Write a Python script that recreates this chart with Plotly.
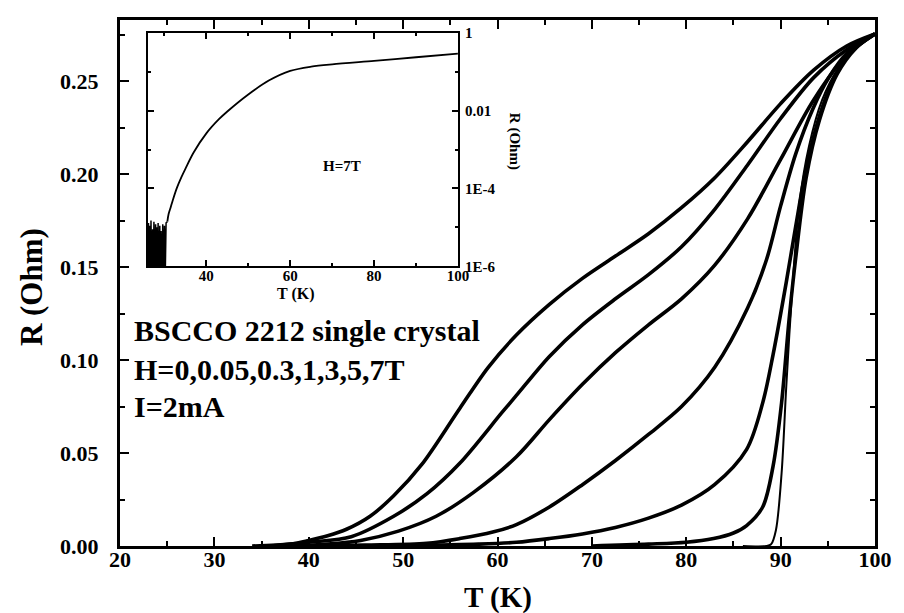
import plotly.graph_objects as go

# ---------------- data ----------------
fields = ["7T", "5T", "3T", "1T", "0.3T", "0.05T", "0T"]

H7_T = [34, 38, 40, 42, 44, 46.5, 49, 52, 56, 59, 62, 65.5, 69, 72.5, 76, 79.5, 83, 86.5, 90, 93.5, 97, 100]
H7_R = [0, 0.001, 0.003, 0.0055, 0.009, 0.016, 0.027, 0.044, 0.074, 0.096, 0.1135, 0.130, 0.144, 0.156,
        0.168, 0.182, 0.198, 0.2175, 0.238, 0.256, 0.269, 0.2755]

H5_T = [36, 40, 44.5, 49, 52.5, 56, 60.5, 62, 65.5, 69, 72.5, 76, 79.5, 83, 86.5, 90, 93.5, 97, 100]
H5_R = [0, 0.002, 0.005, 0.016, 0.028, 0.0445, 0.072, 0.081, 0.102, 0.119, 0.133, 0.146, 0.161, 0.181,
        0.205, 0.230, 0.252, 0.267, 0.2755]

H3_T = [38, 42, 45.5, 49.5, 53.5, 57.5, 62, 65.5, 69, 72.5, 76, 79.5, 83, 86.5, 90, 93.5, 97, 100]
H3_R = [0, 0.001, 0.003, 0.008, 0.016, 0.029, 0.048, 0.068, 0.087, 0.104, 0.119, 0.133, 0.151, 0.176,
        0.208, 0.240, 0.264, 0.2755]

H1_T = [40, 46, 52.5, 56, 59.5, 62, 65.5, 69, 72.5, 76, 79.5, 83, 86.5, 88.5, 90, 91.6, 93.4, 95.1, 97, 100]
H1_R = [0, 0.0005, 0.0015, 0.004, 0.0075, 0.0115, 0.021, 0.033, 0.046, 0.060, 0.075, 0.096, 0.128, 0.154,
        0.183, 0.211, 0.235, 0.252, 0.265, 0.2755]

H03_T = [50, 58, 62, 65.5, 69, 72.5, 76, 79.5, 83, 86.4, 88.1, 89.2, 90.6, 91.6, 92.7, 94.1, 95.5, 97.5, 100]
H03_R = [0, 0.001, 0.002, 0.004, 0.0065, 0.010, 0.015, 0.022, 0.033, 0.052, 0.077, 0.103, 0.142, 0.172,
         0.203, 0.231, 0.250, 0.266, 0.2755]

H005_T = [70, 76, 80, 82.9, 85, 86.4, 88.1, 89.2, 90.1, 90.9, 91.6, 92.7, 94.1, 96, 98, 100]
H005_R = [0, 0.001, 0.002, 0.004, 0.007, 0.011, 0.021, 0.043, 0.077, 0.122, 0.155, 0.198, 0.229, 0.254,
          0.268, 0.2755]

H0_T = [86, 88.5, 89, 89.5, 90.1, 90.6, 91.3, 92, 93, 94.4, 96.1, 98.3, 100]
H0_R = [0, 0, 0.001, 0.0085, 0.039, 0.086, 0.143, 0.185, 0.215, 0.240, 0.257, 0.270, 0.2755]

# inset: H = 7 T on a log scale - noisy floor below ~30.5 K, then smooth rise
inset_noise_T = [26.0, 26.2, 26.3, 26.5, 26.7, 26.8, 27.0, 27.2, 27.3, 27.5, 27.7, 27.9, 28.0,
                 28.2, 28.4, 28.5, 28.7, 28.9, 29.0, 29.2, 29.4, 29.6, 29.8, 30.0, 30.2, 30.4, 30.7]
inset_noise_R = [2e-7, 1.3e-5, 3e-7, 1.1e-5, 2e-7, 1.5e-5, 4e-7, 9e-6, 2e-7, 1.4e-5, 3e-7, 1.2e-5, 2e-7,
                 1.0e-5, 5e-7, 1.3e-5, 2e-7, 1.1e-5, 3e-7, 8e-6, 2e-7, 1.2e-5, 4e-7, 1.1e-5, 6e-7, 1.3e-5,
                 1.4e-5]
inset_T = [30.7, 31.0, 31.5, 32, 33, 34, 35, 37, 40, 43, 45, 50, 55, 60, 65, 70, 80, 90, 100]
inset_R = [1.4e-5, 2.2e-5, 3.3e-5, 5.0e-5, 1.05e-4, 1.9e-4, 3.2e-4, 8.5e-4, 2.6e-3, 6.0e-3, 9.5e-3,
           2.6e-2, 6.0e-2, 0.105, 0.135, 0.155, 0.19, 0.235, 0.29]

main_xticks = [20, 30, 40, 50, 60, 70, 80, 90, 100]
main_yticks = [0.00, 0.05, 0.10, 0.15, 0.20, 0.25]
inset_xticks = [40, 60, 80, 100]
inset_yticks = [1, 0.01, 1e-4, 1e-6]
inset_ytext = ["1", "0.01", "1E-4", "1E-6"]

curves = [(H7_T, H7_R), (H5_T, H5_R), (H3_T, H3_R), (H1_T, H1_R),
          (H03_T, H03_R), (H005_T, H005_R), (H0_T, H0_R)]

SERIF = "Liberation Serif"
fig = go.Figure()

for name, (t, r) in zip(fields, curves):
    fig.add_trace(go.Scatter(
        x=t, y=r, mode="lines", name=name,
        line=dict(color="black", width=2.0 if name == "0T" else 3.6,
                  shape="spline", smoothing=0.9),
        showlegend=False, xaxis="x", yaxis="y"))

fig.add_trace(go.Scatter(
    x=inset_noise_T, y=inset_noise_R, mode="lines", name="7T noise",
    line=dict(color="black", width=1.5), showlegend=False,
    xaxis="x2", yaxis="y2"))
fig.add_trace(go.Scatter(
    x=inset_T, y=inset_R, mode="lines", name="7T inset",
    line=dict(color="black", width=1.8, shape="spline", smoothing=0.9), showlegend=False,
    xaxis="x2", yaxis="y2"))

tickfont_main = dict(family=SERIF, size=22, color="black", weight="bold")
tickfont_in = dict(family=SERIF, size=15, color="black", weight="bold")

fig.update_layout(
    width=904, height=613,
    margin=dict(l=120, r=20, t=12, b=67),
    paper_bgcolor="white", plot_bgcolor="white",
    xaxis=dict(domain=[0, 1], range=[20, 100], tickvals=main_xticks,
               ticks="inside", ticklen=9, tickwidth=2, tickcolor="black",
               minor=dict(dtick=5, tick0=20, ticks="inside", ticklen=5, tickwidth=2, tickcolor="black"),
               showline=True, linewidth=3, linecolor="black", mirror="allticks",
               showgrid=False, zeroline=False, tickfont=tickfont_main,
               ticklabelstandoff=-8),
    yaxis=dict(domain=[0, 1], range=[0, 0.283], tickvals=main_yticks, tickformat=".2f",
               ticks="inside", ticklen=9, tickwidth=2, tickcolor="black",
               minor=dict(dtick=0.025, tick0=0, ticks="inside", ticklen=5, tickwidth=2, tickcolor="black"),
               showline=True, linewidth=3, linecolor="black", mirror="allticks",
               showgrid=False, zeroline=False, tickfont=tickfont_main,
               ticklabelstandoff=14),
    xaxis2=dict(domain=[0.0366, 0.4476], anchor="y2", range=[26, 100], tickvals=inset_xticks,
                ticks="inside", ticklen=6, tickwidth=1.5, tickcolor="black",
                minor=dict(dtick=10, tick0=20, ticks="inside", ticklen=3, tickwidth=1.5, tickcolor="black"),
                showline=True, linewidth=2, linecolor="black", mirror="allticks",
                showgrid=False, zeroline=False, tickfont=tickfont_in,
                ticklabelstandoff=-5),
    yaxis2=dict(domain=[0.5318, 0.9757], anchor="x2", side="right", type="log", range=[-6, 0],
                tickvals=inset_yticks, ticktext=inset_ytext,
                ticks="inside", ticklen=6, tickwidth=1.5, tickcolor="black",
                minor=dict(tickvals=[0.1, 1e-3, 1e-5], ticks="inside", ticklen=3,
                           tickwidth=1.5, tickcolor="black"),
                showline=True, linewidth=2, linecolor="black", mirror="allticks",
                showgrid=False, zeroline=False, tickfont=tickfont_in,
                ticklabelstandoff=2),
)

ann = [
    dict(text="T (K)", x=0.5, y=-0.0974, font=dict(family=SERIF, size=29, weight="bold")),
    dict(text="R (Ohm)", x=-0.118, y=0.492, textangle=-90, font=dict(family=SERIF, size=31, weight="bold")),
    dict(text="T (K)", x=0.233, y=0.479, font=dict(family=SERIF, size=16, weight="bold")),
    dict(text="R (Ohm)", x=0.5236, y=0.7697, textangle=90, font=dict(family=SERIF, size=15, weight="bold")),
    dict(text="H=7T", x=0.2945, y=0.7228, font=dict(family=SERIF, size=15, weight="bold")),
    dict(text="BSCCO 2212 single crystal", x=0.016, y=0.410, xanchor="left",
         font=dict(family=SERIF, size=30, weight="bold")),
    dict(text="H=0,0.05,0.3,1,3,5,7T", x=0.016, y=0.336, xanchor="left",
         font=dict(family=SERIF, size=30, weight="bold")),
    dict(text="I=2mA", x=0.016, y=0.266, xanchor="left",
         font=dict(family=SERIF, size=30, weight="bold")),
]
for a in ann:
    a.setdefault("xanchor", "center")
    a["font"]["color"] = "black"
    fig.add_annotation(xref="paper", yref="paper", showarrow=False, yanchor="middle", **a)

fig.write_html("out.html")
